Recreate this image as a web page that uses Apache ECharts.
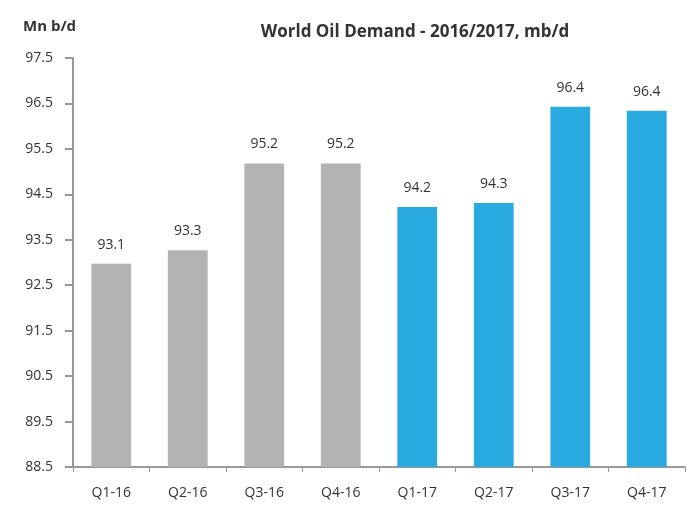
<!DOCTYPE html>
<html>
<head>
<meta charset="utf-8">
<script src="https://cdn.jsdelivr.net/npm/echarts@6/dist/echarts.min.js"></script>
<style>
  html, body { margin: 0; padding: 0; background: #fff; }
  #chart { width: 692px; height: 509px; }
</style>
</head>
<body>
<div id="chart"></div>
<script>
var categories = ['Q1-16', 'Q2-16', 'Q3-16', 'Q4-16', 'Q1-17', 'Q2-17', 'Q3-17', 'Q4-17']
var demand = [92.97, 93.27, 95.18, 95.18, 94.22, 94.31, 96.43, 96.34]
var demandLabels = ['93.1', '93.3', '95.2', '95.2', '94.2', '94.3', '96.4', '96.4']
var barColors = ['#b3b3b3', '#b3b3b3', '#b3b3b3', '#b3b3b3', '#29abe2', '#29abe2', '#29abe2', '#29abe2']

var font = '"Open Sans", sans-serif'
var chart = echarts.init(document.getElementById('chart'))

chart.setOption({
  animation: false,
  textStyle: { fontFamily: font },
  title: [
    {
      text: 'World Oil Demand - 2016/2017, mb/d',
      left: 410,
      top: 19,
      textAlign: 'center',
      textStyle: { fontSize: 17, fontWeight: 'bold', color: '#333', fontFamily: font }
    },
    {
      text: 'Mn b/d',
      left: 18,
      top: 14,
      textStyle: { fontSize: 15, fontWeight: 'bold', color: '#333', fontFamily: font }
    }
  ],
  grid: { left: 73, right: 7, top: 58, bottom: 42 },
  xAxis: {
    type: 'category',
    data: categories,
    axisLine: { lineStyle: { color: '#999', width: 2 } },
    axisTick: { show: true, inside: false, length: 5, lineStyle: { color: '#999' } },
    axisLabel: { color: '#333', fontSize: 14, margin: 19, fontFamily: font }
  },
  yAxis: {
    type: 'value',
    min: 88.5,
    max: 97.5,
    interval: 1,
    splitLine: { show: false },
    axisLine: { show: true, lineStyle: { color: '#999', width: 2 } },
    axisTick: { show: true, length: 8, lineStyle: { color: '#999', width: 2 } },
    axisLabel: {
      color: '#333',
      fontSize: 14,
      margin: 20,
      fontFamily: font,
      formatter: function (v) { return v.toFixed(1) }
    }
  },
  series: [
    {
      type: 'bar',
      barWidth: '52%',
      data: demand.map(function (v, i) {
        return { value: v, itemStyle: { color: barColors[i] } }
      }),
      label: {
        show: true,
        position: 'top',
        distance: 12,
        color: '#333',
        fontSize: 14,
        fontFamily: font,
        formatter: function (p) { return demandLabels[p.dataIndex] }
      }
    }
  ]
})
</script>
</body>
</html>
